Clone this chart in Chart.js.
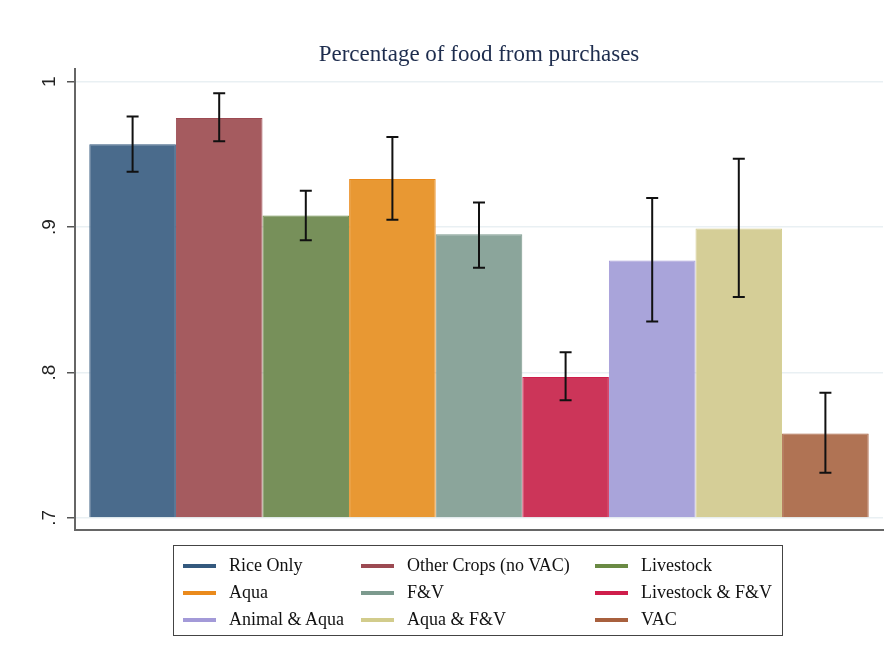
<!DOCTYPE html>
<html>
<head>
<meta charset="utf-8">
<script src="https://cdn.jsdelivr.net/npm/chart.js@4"></script>
<style>
    body { margin: 0; background: #fff; }
    #wrap { position: relative; width: 894px; height: 659px; }
    #legend {
        position: absolute; left: 173px; top: 545px; width: 610px; height: 91px;
        border: 1.5px solid #444; box-sizing: border-box;
        font-family: "Liberation Serif", "Times New Roman", serif; font-size: 18px; color: #111;
        display: grid; grid-template-columns: 178px 234px 1fr; grid-auto-rows: 27px;
        padding: 6px 0 0 9px;
    }
    .item { display: flex; align-items: center; white-space: nowrap; }
    .swatch { width: 33px; height: 4px; margin-right: 13px; }
</style>
</head>
<body>
<div id="wrap">
    <canvas id="chart" width="894" height="659"></canvas>
    <div id="legend"></div>
</div>
<script>
// Data
const groups = ['Rice Only', 'Other Crops (no VAC)', 'Livestock', 'Aqua', 'F&V', 'Livestock & F&V', 'Animal & Aqua', 'Aqua & F&V', 'VAC'];
const means = [0.957, 0.975, 0.908, 0.933, 0.895, 0.797, 0.877, 0.899, 0.758];
const ciLow = [0.938, 0.959, 0.891, 0.905, 0.872, 0.781, 0.835, 0.852, 0.731];
const ciHigh = [0.976, 0.992, 0.925, 0.962, 0.917, 0.814, 0.920, 0.947, 0.786];
const yTicks = [0.7, 0.8, 0.9, 1];

const fillColors = ['#4a6b8c', '#a55b5f', '#77905a', '#e89833', '#8ba59b', '#cc3559', '#a9a4da', '#d5ce97', '#b07354'];
const lineColors = ['#34597e', '#9c4a52', '#6a8a44', '#ea8a1c', '#7c9a8e', '#cf1d4b', '#a39ad8', '#d2cc8c', '#a8603e'];

// Error bars drawn from the bar elements and the y scale
const errorBars = {
    id: 'errorBars',
    afterDatasetsDraw(chart) {
        const ctx = chart.ctx;
        const y = chart.scales.y;
        ctx.save();
        ctx.strokeStyle = '#111';
        ctx.lineWidth = 2;
        chart.data.datasets.forEach((ds, i) => {
            const bar = chart.getDatasetMeta(i).data[0];
            const top = y.getPixelForValue(ciHigh[i]);
            const bot = y.getPixelForValue(ciLow[i]);
            ctx.beginPath();
            ctx.moveTo(bar.x, top); ctx.lineTo(bar.x, bot);
            ctx.moveTo(bar.x - 6, top); ctx.lineTo(bar.x + 6, top);
            ctx.moveTo(bar.x - 6, bot); ctx.lineTo(bar.x + 6, bot);
            ctx.stroke();
        });
        ctx.restore();
    }
};

const chart = new Chart(document.getElementById('chart'), {
    type: 'bar',
    data: {
        labels: [''],
        datasets: groups.map((g, i) => ({
            label: g,
            data: [means[i]],
            base: 0.7,
            backgroundColor: fillColors[i],
            borderColor: lineColors[i],
            borderWidth: 1
        }))
    },
    options: {
        responsive: false,
        animation: false,
        categoryPercentage: 0.9646,
        barPercentage: 1,
        layout: { padding: { left: 0, right: 11, top: 0, bottom: 129 } },
        plugins: {
            legend: { display: false },
            tooltip: { enabled: false },
            title: {
                display: true,
                fullSize: false,
                text: 'Percentage of food from purchases',
                color: '#1e2d4e',
                font: { family: '"Liberation Serif", "Times New Roman", serif', size: 23, weight: 'normal', lineHeight: 1.2 },
                padding: { top: 41, bottom: 0 }
            }
        },
        scales: {
            x: {
                grid: { display: false, drawTicks: false },
                border: { display: true, color: '#666', width: 2 },
                ticks: { display: false }
            },
            y: {
                min: 0.6917,
                max: 1.009,
                afterBuildTicks: scale => { scale.ticks = yTicks.map(v => ({ value: v })); },
                afterFit: scale => { scale.width = 75; },
                grid: { color: '#e9f0f3', lineWidth: 1.5, tickColor: '#555', tickLength: 8, tickWidth: 1.5 },
                border: { display: true, color: '#666', width: 2 },
                ticks: {
                    minRotation: 90,
                    maxRotation: 90,
                    crossAlign: 'center',
                    padding: 9,
                    color: '#222',
                    font: { family: '"Liberation Sans", Arial, sans-serif', size: 19 },
                    callback: v => v === 1 ? '1' : String(v).replace(/^0/, '')
                }
            }
        }
    },
    plugins: [errorBars]
});

// HTML legend built from the chart's own legend items
const legendEl = document.getElementById('legend');
chart.options.plugins.legend.labels.generateLabels(chart).forEach((item, i) => {
    const div = document.createElement('div');
    div.className = 'item';
    div.innerHTML = `<span class="swatch" style="background:${lineColors[i]}"></span><span>${item.text.replace(/&/g, '&amp;')}</span>`;
    legendEl.appendChild(div);
});
</script>
</body>
</html>
